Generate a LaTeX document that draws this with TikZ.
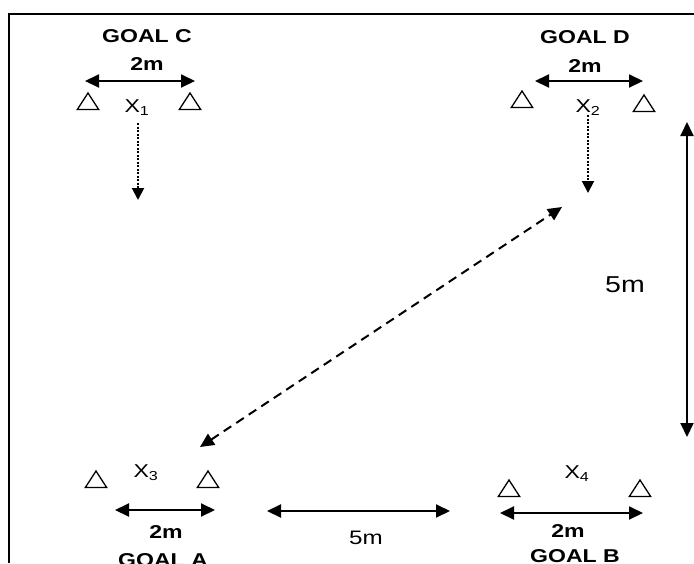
\documentclass[tikz,border=0pt]{standalone}
\usepackage{fontspec}
\setmainfont{Liberation Sans}
\usetikzlibrary{arrows.meta,shapes.geometric}
\begin{document}
\begin{tikzpicture}[x=1pt, y=-1pt, lbl/.style={anchor=base, inner sep=0pt, xscale=1.24, font=\fontsize{18.6}{20}\selectfont}, goal/.style={lbl, font=\fontsize{18.6}{20}\selectfont\bfseries}, cone/.style={draw, regular polygon, regular polygon sides=3, minimum size=22pt, inner sep=0pt, xscale=1.12, line width=1.3pt}, dim/.style={{Triangle[length=14pt,width=13pt]}-{Triangle[length=14pt,width=13pt]}, line width=2pt}, run/.style={-{Triangle[length=12pt,width=12pt]}, line width=2pt, dash pattern=on 2pt off 1.5pt}, pass/.style={{Triangle[length=14pt,width=13pt]}-{Triangle[length=14pt,width=13pt]}, line width=2pt, dash pattern=on 9pt off 6pt}]
\useasboundingbox (0,0) rectangle (694,563);
\draw[line width=2pt] (9,563) -- (9,14) -- (694,14);
\node[goal] (goalC) at (147,42) {GOAL C};
\node[goal] (wC) at (147,70) {2m};
\node[cone] (cC1) at (88,104) {};
\node[cone] (cC2) at (190,104) {};
\node[lbl] (x1) at (137,112) {X\textsubscript{1}};
\node[goal] (goalD) at (585,43) {GOAL D};
\node[goal] (wD) at (585,72) {2m};
\node[cone] (cD1) at (522,102) {};
\node[cone] (cD2) at (644,106) {};
\node[lbl] (x2) at (588,112) {X\textsubscript{2}};
\node[lbl] (x3) at (146,477) {X\textsubscript{3}};
\node[cone] (cA1) at (96,482) {};
\node[cone] (cA2) at (208,482) {};
\node[goal] (wA) at (166,538) {2m};
\node[goal] (goalA) at (163,566) {GOAL A};
\node[lbl] (x4) at (577,478) {X\textsubscript{4}};
\node[cone] (cB1) at (509,491) {};
\node[cone] (cB2) at (640,491) {};
\node[goal] (wB) at (568,537) {2m};
\node[goal] (goalB) at (575,562) {GOAL B};
\node[lbl, font=\fontsize{19.5}{21}\selectfont] (gapAB) at (366,544) {5m};
\node[lbl, font=\fontsize{23}{25}\selectfont] (gapCA) at (625,292) {5m};
\coordinate (c1) at (85,81);
\coordinate (c2) at (195,81);
\coordinate (d1) at (535,81);
\coordinate (d2) at (643,81);
\coordinate (a1) at (115,510);
\coordinate (a2) at (215,510);
\coordinate (b1) at (500,513);
\coordinate (b2) at (643,513);
\coordinate (m1) at (267,511);
\coordinate (m2) at (450,511);
\coordinate (v1) at (687,122);
\coordinate (v2) at (687,437);
\coordinate (r1) at (138,123);
\coordinate (r1e) at (138,200);
\coordinate (r2) at (588,115);
\coordinate (r2e) at (588,193);
\coordinate (p3) at (200,447);
\coordinate (p2) at (562,207);
\draw[dim] (c1) -- (c2);
\draw[dim] (d1) -- (d2);
\draw[dim] (a1) -- (a2);
\draw[dim] (b1) -- (b2);
\draw[dim] (m1) -- (m2);
\draw[dim] (v1) -- (v2);
\draw[run] (r1) -- (r1e);
\draw[run] (r2) -- (r2e);
\draw[pass] (p3) -- (p2);
\end{tikzpicture}
\end{document}
